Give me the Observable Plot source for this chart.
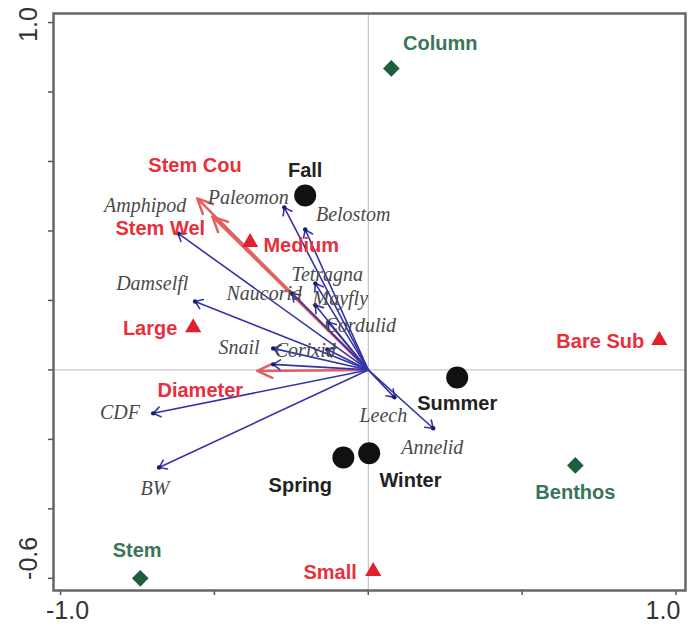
<!DOCTYPE html>
<html><head><meta charset="utf-8">
<script src="https://cdn.jsdelivr.net/npm/d3@7"></script>
<script src="https://cdn.jsdelivr.net/npm/@observablehq/plot@0.6"></script>
<style>body{margin:0;background:#fff}</style>
</head><body><div id="chart"></div>
<script>
// Species (blue arrows)
const species = ["Amphipod","Paleomon","Belostom","Damselfl","Tetragna","Naucorid","Mayfly","Cordulid","Snail","Corixid","","CDF","BW","Leech","Annelid"];
const speciesX = [-0.618,-0.273,-0.205,-0.563,-0.172,-0.247,-0.172,-0.130,-0.309,-0.133,-0.309,-0.699,-0.680,0.085,0.211];
const speciesY = [0.393,0.468,0.404,0.197,0.249,0.220,0.186,0.137,0.062,0.059,0.016,-0.125,-0.281,-0.079,-0.168];
const speciesLabelX = [-0.725,-0.390,-0.049,-0.702,-0.133,-0.338,-0.091,-0.026,-0.420,-0.205,0,-0.807,-0.693,0.049,0.208];
const speciesLabelY = [0.473,0.496,0.447,0.249,0.275,0.220,0.206,0.128,0.064,0.056,0,-0.122,-0.341,-0.131,-0.223];

// Quantitative environmental variables (red arrows)
const envVars = ["Stem Cou","Stem Wel","Diameter"];
const envX = [-0.556,-0.507,-0.361];
const envY = [0.494,0.442,-0.003];
const envLabelX = [-0.563,-0.676,-0.546];
const envLabelY = [0.589,0.407,-0.059];

// Nominal environmental variables (red triangles)
const sizes = ["Medium","Large","Bare Sub","Small"];
const sizeX = [-0.384,-0.569,0.946,0.016];
const sizeY = [0.367,0.122,0.085,-0.580];
const sizeLabelX = [-0.218,-0.709,0.754,-0.124];
const sizeLabelY = [0.358,0.119,0.082,-0.583];

// Seasons (black circles)
const seasons = ["Fall","Summer","Spring","Winter"];
const seasonX = [-0.205,0.289,-0.081,0.003];
const seasonY = [0.502,-0.022,-0.252,-0.240];
const seasonLabelX = [-0.205,0.289,-0.221,0.137];
const seasonLabelY = [0.574,-0.096,-0.332,-0.318];

// Habitats (green diamonds)
const habitats = ["Column","Benthos","Stem"];
const habitatX = [0.075,0.673,-0.741];
const habitatY = [0.868,-0.275,-0.600];
const habitatLabelX = [0.234,0.673,-0.751];
const habitatLabelY = [0.940,-0.353,-0.519];

// Axis ticks
const xTicks = [-1.0,-0.5,0,0.5,1.0];
const yTicks = [-0.6,-0.4,-0.2,0,0.2,0.4,0.6,0.8,1.0];
const xMinLabel = "-1.0", xMaxLabel = "1.0";
const yMaxLabel = "1.0", yMinLabel = "-0.6";

const sp = species.map((n,i)=>({name:n,x:speciesX[i],y:speciesY[i],lx:speciesLabelX[i],ly:speciesLabelY[i]}));
const env = envVars.map((n,i)=>({name:n,x:envX[i],y:envY[i],lx:envLabelX[i],ly:envLabelY[i]}));
const sz = sizes.map((n,i)=>({name:n,x:sizeX[i],y:sizeY[i],lx:sizeLabelX[i],ly:sizeLabelY[i]}));
const se = seasons.map((n,i)=>({name:n,x:seasonX[i],y:seasonY[i],lx:seasonLabelX[i],ly:seasonLabelY[i]}));
const hb = habitats.map((n,i)=>({name:n,x:habitatX[i],y:habitatY[i],lx:habitatLabelX[i],ly:habitatLabelY[i]}));

const bold = {fontFamily:"Liberation Sans, Arial, sans-serif", fontWeight:"bold", fontSize:20};
const tickFont = {fontFamily:"Liberation Sans, Arial, sans-serif", fontSize:25, fill:"#333"};

const chart = Plot.plot({
  width: 697, height: 633,
  marginLeft: 53, marginRight: 12, marginTop: 13, marginBottom: 43,
  x: {domain:[-1.023,1.031], axis:null},
  y: {domain:[-0.635,1.026], axis:null},
  style: {background:"#fff"},
  marks: [
    Plot.ruleX([0], {stroke:"#b8b8b8", strokeWidth:1}),
    Plot.ruleY([0], {stroke:"#b8b8b8", strokeWidth:1}),
    Plot.axisX(xTicks, {anchor:"bottom", tickSize:5, tickFormat:()=>"", stroke:"#555", strokeWidth:1.5}),
    Plot.axisY(yTicks, {anchor:"left", tickSize:5, tickFormat:()=>"", stroke:"#555", strokeWidth:1.5}),
    Plot.frame({stroke:"#666", strokeWidth:2.5}),
    Plot.text([xMinLabel], {x:xTicks[0], y:-0.635, text:d=>d, dy:20, dx:7, textAnchor:"middle", ...tickFont}),
    Plot.text([xMaxLabel], {x:xTicks[4], y:-0.635, text:d=>d, dy:20, dx:-13, textAnchor:"middle", ...tickFont}),
    Plot.text([yMaxLabel], {y:yTicks[8], x:-1.023, text:d=>d, dx:-25, dy:2, rotate:-90, textAnchor:"middle", ...tickFont}),
    Plot.text([yMinLabel], {y:yTicks[0], x:-1.023, text:d=>d, dx:-25, dy:-20, rotate:-90, textAnchor:"middle", ...tickFont}),
    // red env arrows
    Plot.arrow(env, {x1:0, y1:0, x2:"x", y2:"y", stroke:"#e46060", strokeWidth:2.5, headLength:10, headAngle:50}),
    // species arrows
    Plot.arrow(sp, {x1:0, y1:0, x2:"x", y2:"y", stroke:"#3434a8", strokeWidth:1.6, headLength:8, headAngle:70}),
    Plot.dot(sp, {x:"x", y:"y", r:2.2, fill:"#1a1a6e"}),
    // species labels
    Plot.text(sp.filter(d=>d.name!==""), {x:"lx", y:"ly", text:"name", fontFamily:"Liberation Serif, Times New Roman, serif",
      fontStyle:"italic", fontSize:20, fill:"#4a4a4a"}),
    // env labels
    Plot.text(env, {x:"lx", y:"ly", text:"name", ...bold, fill:"#e8303c"}),
    // triangles
    Plot.dot(sz, {x:"x", y:"y", symbol:"triangle", r:6, fill:"#e0202c"}),
    Plot.text(sz, {x:"lx", y:"ly", text:"name", ...bold, fill:"#e8303c"}),
    // seasons
    Plot.dot(se, {x:"x", y:"y", r:11, fill:"#111"}),
    Plot.text(se, {x:"lx", y:"ly", text:"name", ...bold, fill:"#222"}),
    // habitats
    Plot.dot(hb, {x:"x", y:"y", symbol:"diamond2", r:7.5, fill:"#1f5e3c"}),
    Plot.text(hb, {x:"lx", y:"ly", text:"name", ...bold, fill:"#3a7558"})
  ]
});
document.getElementById("chart").appendChild(chart);
</script>
</body></html>
